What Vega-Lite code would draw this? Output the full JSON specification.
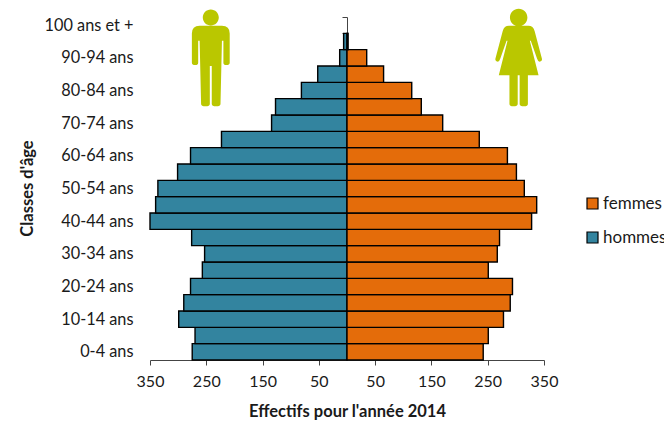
{"$schema":"https://vega.github.io/schema/vega-lite/v6.json","width":394,"height":343,"autosize":{"type":"none"},"padding":{"left":150,"top":17,"right":120,"bottom":68},"background":"white","config":{"view":{"stroke":null},"font":"Lato"},"datasets":{"pop":[
{"age":"0-4 ans","sexe":"hommes","effectif":-275},{"age":"5-9 ans","sexe":"hommes","effectif":-270},{"age":"10-14 ans","sexe":"hommes","effectif":-299},{"age":"15-19 ans","sexe":"hommes","effectif":-290},{"age":"20-24 ans","sexe":"hommes","effectif":-278},{"age":"25-29 ans","sexe":"hommes","effectif":-257},{"age":"30-34 ans","sexe":"hommes","effectif":-253},{"age":"35-39 ans","sexe":"hommes","effectif":-276},{"age":"40-44 ans","sexe":"hommes","effectif":-350},{"age":"45-49 ans","sexe":"hommes","effectif":-340},{"age":"50-54 ans","sexe":"hommes","effectif":-336},{"age":"55-59 ans","sexe":"hommes","effectif":-301},{"age":"60-64 ans","sexe":"hommes","effectif":-278},{"age":"65-69 ans","sexe":"hommes","effectif":-223},{"age":"70-74 ans","sexe":"hommes","effectif":-134},{"age":"75-79 ans","sexe":"hommes","effectif":-127},{"age":"80-84 ans","sexe":"hommes","effectif":-81},{"age":"85-89 ans","sexe":"hommes","effectif":-52},{"age":"90-94 ans","sexe":"hommes","effectif":-13},{"age":"95-99 ans","sexe":"hommes","effectif":-6},{"age":"100 ans et +","sexe":"hommes","effectif":0},
{"age":"0-4 ans","sexe":"femmes","effectif":242},{"age":"5-9 ans","sexe":"femmes","effectif":251},{"age":"10-14 ans","sexe":"femmes","effectif":278},{"age":"15-19 ans","sexe":"femmes","effectif":290},{"age":"20-24 ans","sexe":"femmes","effectif":294},{"age":"25-29 ans","sexe":"femmes","effectif":251},{"age":"30-34 ans","sexe":"femmes","effectif":267},{"age":"35-39 ans","sexe":"femmes","effectif":271},{"age":"40-44 ans","sexe":"femmes","effectif":328},{"age":"45-49 ans","sexe":"femmes","effectif":337},{"age":"50-54 ans","sexe":"femmes","effectif":315},{"age":"55-59 ans","sexe":"femmes","effectif":301},{"age":"60-64 ans","sexe":"femmes","effectif":285},{"age":"65-69 ans","sexe":"femmes","effectif":235},{"age":"70-74 ans","sexe":"femmes","effectif":170},{"age":"75-79 ans","sexe":"femmes","effectif":132},{"age":"80-84 ans","sexe":"femmes","effectif":115},{"age":"85-89 ans","sexe":"femmes","effectif":65},{"age":"90-94 ans","sexe":"femmes","effectif":35},{"age":"95-99 ans","sexe":"femmes","effectif":2},{"age":"100 ans et +","sexe":"femmes","effectif":0}]},
"layer":[
{"data":{"name":"pop"},"transform":[{"filter":"datum.effectif != 0"}],"mark":{"type":"bar","stroke":"#000000","strokeWidth":1.4},"encoding":{
"y":{"field":"age","type":"nominal","scale":{"domain":["100 ans et +","95-99 ans","90-94 ans","85-89 ans","80-84 ans","75-79 ans","70-74 ans","65-69 ans","60-64 ans","55-59 ans","50-54 ans","45-49 ans","40-44 ans","35-39 ans","30-34 ans","25-29 ans","20-24 ans","15-19 ans","10-14 ans","5-9 ans","0-4 ans"],"paddingInner":0,"paddingOuter":0},"axis":{"title":"Classes d'âge","titleFont":"Lato","titleFontSize":16.5,"titleFontWeight":"bold","titleColor":"#1a1a1a","titleX":-312,"titleY":171,"offset":-197,"tickBand":"extent","tickSize":5,"tickColor":"#444444","domainColor":"#444444","labelPadding":209,"labelFont":"Lato","labelFontSize":16.3,"labelColor":"#1a1a1a","labelOverlap":false,"grid":false,"labelExpr":"round(datum.index*20)%2==0?datum.label:''"}},
"x":{"field":"effectif","type":"quantitative","scale":{"domain":[-350,350],"nice":false,"zero":false},"axis":{"values":[-350,-250,-150,-50,50,150,250,350],"labelExpr":"abs(datum.value)","title":"Effectifs pour l'année 2014","titleFont":"Lato","titleFontSize":16.5,"titleFontWeight":"bold","titleColor":"#1a1a1a","titlePadding":14,"labelFont":"Lato","labelFontSize":16,"labelColor":"#1a1a1a","labelPadding":8,"labelFlush":false,"tickSize":5,"tickColor":"#444444","domainColor":"#444444","grid":false}},
"color":{"field":"sexe","type":"nominal","scale":{"domain":["femmes","hommes"],"range":["#E46C0A","#33849F"]},"legend":{"title":null,"orient":"none","legendX":434,"legendY":178,"symbolType":"square","symbolSize":121,"symbolStrokeColor":"#000000","symbolStrokeWidth":1.2,"labelFont":"Lato","labelFontSize":17,"labelColor":"#1a1a1a","rowPadding":16,"labelOffset":2}}}},
{"data":{"values":[{"sexe":"hommes","x":-242,"age":"90-94 ans"}]},"mark":{"type":"point","filled":true,"opacity":1,"color":"#BAC700","size":9409,"shape":"M-.39 -.5 Q-.39 -.66 -.23 -.66 L.23 -.66 Q.39 -.66 .39 -.5 L.39 .1 Q.39 .15 .32 .15 Q.26 .15 .26 .1 L.26 -.35 L.23 -.35 L.2 .95 Q.2 1 .11 1 Q.02 1 .02 .95 L.02 .17 L-.02 .17 L-.02 .95 Q-.02 1 -.11 1 Q-.2 1 -.2 .95 L-.23 -.35 L-.26 -.35 L-.26 .1 Q-.26 .15 -.32 .15 Q-.39 .15 -.39 .1 Z M-.165 -.83 A.165 .165 0 1 1 .165 -.83 A.165 .165 0 1 1 -.165 -.83 Z"},"encoding":{"x":{"field":"x","type":"quantitative"},"y":{"field":"age","type":"nominal"}}},
{"data":{"values":[{"sexe":"femmes","x":305,"age":"90-94 ans"}]},"mark":{"type":"point","filled":true,"opacity":1,"color":"#BAC700","size":9409,"shape":"M-.2 -.66 L.2 -.66 Q.3 -.66 .33 -.55 L.48 .02 Q.49 .08 .43 .08 Q.4 .08 .38 .02 L.25 -.35 L.23 -.35 L.41 .36 L.19 .36 L.19 .95 Q.19 1 .11 1 Q.02 1 .02 .95 L.02 .36 L-.02 .36 L-.02 .95 Q-.02 1 -.11 1 Q-.19 1 -.19 .95 L-.19 .36 L-.41 .36 L-.23 -.35 L-.25 -.35 L-.38 .02 Q-.4 .08 -.43 .08 Q-.49 .08 -.48 .02 L-.33 -.55 Q-.3 -.66 -.2 -.66 Z M-.18 -.83 A.18 .18 0 1 1 .18 -.83 A.18 .18 0 1 1 -.18 -.83 Z"},"encoding":{"x":{"field":"x","type":"quantitative"},"y":{"field":"age","type":"nominal"}}}
]}
